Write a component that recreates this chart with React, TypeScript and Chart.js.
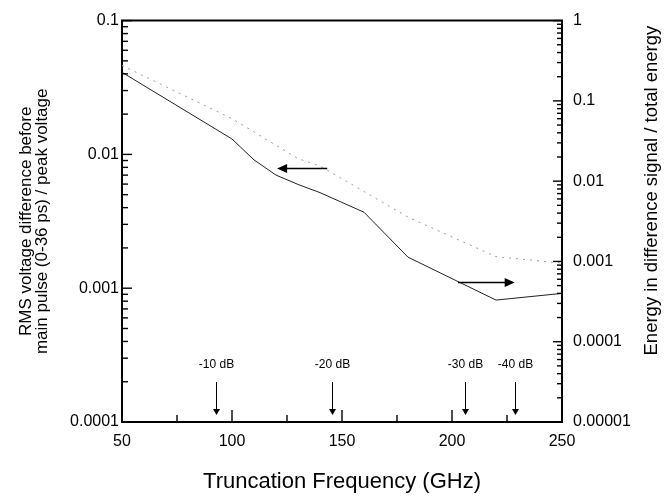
import React, { useEffect, useRef } from 'react';
import { Chart, registerables } from 'chart.js';

Chart.register(...registerables);

// Series
const voltFreq = [50, 100, 130, 140, 180, 220, 250];
const voltValues = [0.0462, 0.0185, 0.0093, 0.0082, 0.0034, 0.00172, 0.00154];
const energyFreq = [50, 100, 110, 120, 130, 140, 160, 180, 220, 250];
const energyValues = [0.227, 0.0335, 0.0184, 0.0119, 0.0091, 0.0072, 0.0041, 0.00113, 0.00033, 0.0004];

// Axes
const xTickValues = [50, 75, 100, 125, 150, 175, 200, 225, 250];
const xLabelValues = [50, 100, 150, 200, 250];
const leftDecades = [0.0001, 0.001, 0.01, 0.1];
const leftDecadeLabels = ['0.0001', '0.001', '0.01', '0.1'];
const rightDecades = [0.00001, 0.0001, 0.001, 0.01, 0.1, 1];
const rightDecadeLabels = ['0.00001', '0.0001', '0.001', '0.01', '0.1', '1'];
const minorMultipliers = [2, 3, 4, 5, 6, 7, 8, 9];

// Annotations
const dbFreq = [92.6, 145.5, 205.8, 228.8];
const dbLabels = ['-10 dB', '-20 dB', '-30 dB', '-40 dB'];
const arrowAxis = ['y', 'y2'];
const arrowFromFreq = [143.3, 202.7];
const arrowToFreq = [120.5, 228.5];
const arrowLevel = [0.00793, 0.00056];

const FONT = "'Liberation Sans', Arial, sans-serif";

function logTicks(decades: number[]) {
  const out: number[] = [];
  decades.forEach((d, i) => {
    out.push(d);
    if (i < decades.length - 1) minorMultipliers.forEach((m) => out.push(d * m));
  });
  return out;
}

function decadeIndex(decades: number[], v: number) {
  return decades.findIndex((d) => Math.abs(v / d - 1) < 1e-6);
}

const leftTickValues = logTicks(leftDecades);
const rightTickValues = logTicks(rightDecades);

const decorPlugin = {
  id: 'decor',
  afterDraw(chart: any) {
    const ctx = chart.ctx;
    const a = chart.chartArea;
    const xs = chart.scales.x;
    const ys = chart.scales.y;
    const y2 = chart.scales.y2;
    ctx.save();
    ctx.strokeStyle = '#000';
    ctx.fillStyle = '#000';
    ctx.setLineDash([]);

    // top frame line
    ctx.lineWidth = 2;
    ctx.beginPath();
    ctx.moveTo(a.left - 1, a.top);
    ctx.lineTo(a.right + 1, a.top);
    ctx.stroke();

    // inward tick marks
    ctx.lineWidth = 1.4;
    xTickValues.forEach((v) => {
      const px = xs.getPixelForValue(v);
      const len = xLabelValues.includes(v) ? 12 : 7;
      ctx.beginPath();
      ctx.moveTo(px, a.bottom);
      ctx.lineTo(px, a.bottom - len);
      ctx.stroke();
    });
    leftTickValues.forEach((v) => {
      const py = ys.getPixelForValue(v);
      const len = decadeIndex(leftDecades, v) >= 0 ? 10 : 6;
      ctx.beginPath();
      ctx.moveTo(a.left, py);
      ctx.lineTo(a.left + len, py);
      ctx.stroke();
    });
    rightTickValues.forEach((v) => {
      const py = y2.getPixelForValue(v);
      const len = decadeIndex(rightDecades, v) >= 0 ? 9 : 5;
      ctx.beginPath();
      ctx.moveTo(a.right, py);
      ctx.lineTo(a.right - len, py);
      ctx.stroke();
    });

    // dB markers
    ctx.lineWidth = 1;
    ctx.font = `12px ${FONT}`;
    ctx.textAlign = 'center';
    ctx.textBaseline = 'middle';
    dbFreq.forEach((f, i) => {
      const px = Math.round(xs.getPixelForValue(f)) + 0.5;
      ctx.fillText(dbLabels[i], px, a.bottom - 57);
      ctx.beginPath();
      ctx.moveTo(px, a.bottom - 40);
      ctx.lineTo(px, a.bottom - 10);
      ctx.stroke();
      ctx.beginPath();
      ctx.moveTo(px, a.bottom - 7);
      ctx.lineTo(px - 3.5, a.bottom - 13);
      ctx.lineTo(px + 3.5, a.bottom - 13);
      ctx.closePath();
      ctx.fill();
    });

    // horizontal arrows pointing to the relevant axis
    ctx.lineWidth = 1.5;
    arrowAxis.forEach((id, i) => {
      const sc = chart.scales[id];
      const py = Math.round(sc.getPixelForValue(arrowLevel[i])) + 0.5;
      const x0 = xs.getPixelForValue(arrowFromFreq[i]);
      const x1 = xs.getPixelForValue(arrowToFreq[i]);
      const dir = Math.sign(x1 - x0);
      ctx.beginPath();
      ctx.moveTo(x0, py);
      ctx.lineTo(x1 - dir * 8, py);
      ctx.stroke();
      ctx.beginPath();
      ctx.moveTo(x1, py);
      ctx.lineTo(x1 - dir * 10, py - 4.5);
      ctx.lineTo(x1 - dir * 10, py + 4.5);
      ctx.closePath();
      ctx.fill();
    });

    // right axis title (reads bottom to top)
    ctx.font = `18.5px ${FONT}`;
    ctx.translate(a.right + 90, a.top + 170);
    ctx.rotate(-Math.PI / 2);
    ctx.fillText('Energy in difference signal / total energy', 0, 0);
    ctx.restore();
  },
};

export default function App() {
  const ref = useRef<HTMLCanvasElement>(null);
  useEffect(() => {
    Chart.defaults.font.family = FONT;
    Chart.defaults.color = '#000';
    const chart = new Chart(ref.current as HTMLCanvasElement, {
      type: 'line',
      data: {
        datasets: [
          {
            label: 'RMS voltage difference',
            data: voltFreq.map((f, i) => ({ x: f, y: voltValues[i] })),
            yAxisID: 'y',
            borderColor: '#9a9a9a',
            borderWidth: 1,
            borderDash: [2, 5],
            pointRadius: 0,
            tension: 0,
          },
          {
            label: 'Energy ratio',
            data: energyFreq.map((f, i) => ({ x: f, y: energyValues[i] })),
            yAxisID: 'y2',
            borderColor: '#222',
            borderWidth: 1,
            pointRadius: 0,
            tension: 0,
          },
        ],
      },
      options: {
        animation: false,
        responsive: false,
        maintainAspectRatio: false,
        layout: { padding: { top: 16, left: 0, right: 0, bottom: 0 } },
        plugins: { legend: { display: false }, tooltip: { enabled: false } },
        scales: {
          x: {
            type: 'linear',
            position: 'bottom',
            min: 50,
            max: 250,
            afterBuildTicks: (s: any) => {
              s.ticks = xTickValues.map((v) => ({ value: v }));
            },
            afterFit: (s: any) => {
              s.height = 74;
            },
            grid: { display: false, drawTicks: false },
            border: { display: true, color: '#000', width: 2 },
            ticks: {
              autoSkip: false,
              maxRotation: 0,
              padding: 10,
              color: '#000',
              font: { size: 16 },
              callback: (v: any) => (xLabelValues.includes(v) ? String(v) : ''),
            },
            title: {
              display: true,
              text: 'Truncation Frequency (GHz)',
              font: { size: 22 },
              color: '#000',
              padding: { top: 0, bottom: 1 },
            },
          },
          y: {
            type: 'logarithmic',
            position: 'left',
            min: 0.0001,
            max: 0.1,
            afterBuildTicks: (s: any) => {
              s.ticks = leftTickValues.map((v) => ({ value: v }));
            },
            afterFit: (s: any) => {
              s.width = 122;
            },
            grid: { display: false, drawTicks: false },
            border: { display: true, color: '#000', width: 2 },
            ticks: {
              autoSkip: false,
              padding: 3,
              color: '#000',
              font: { size: 16 },
              callback: (v: any) => {
                const i = decadeIndex(leftDecades, v);
                return i >= 0 ? leftDecadeLabels[i] : '';
              },
            },
            title: {
              display: true,
              text: ['RMS voltage difference before', 'main pulse (0-36 ps) / peak voltage'],
              font: { size: 17, lineHeight: '16px' },
              color: '#000',
              padding: { top: 18, bottom: 0 },
            },
          },
          y2: {
            type: 'logarithmic',
            position: 'right',
            min: 0.00001,
            max: 1,
            afterBuildTicks: (s: any) => {
              s.ticks = rightTickValues.map((v) => ({ value: v }));
            },
            afterFit: (s: any) => {
              s.width = 107;
            },
            grid: { display: false, drawTicks: false },
            border: { display: true, color: '#000', width: 2 },
            ticks: {
              autoSkip: false,
              padding: 11,
              color: '#000',
              font: { size: 16 },
              callback: (v: any) => {
                const i = decadeIndex(rightDecades, v);
                return i >= 0 ? rightDecadeLabels[i] : '';
              },
            },
          },
        },
      },
      plugins: [decorPlugin],
    } as any);
    return () => chart.destroy();
  }, []);
  return (
    <div style={{ position: 'absolute', left: 0, top: 0, width: 669, height: 496 }}>
      <canvas ref={ref} width={669} height={496} style={{ width: 669, height: 496, display: 'block' }} />
    </div>
  );
}
